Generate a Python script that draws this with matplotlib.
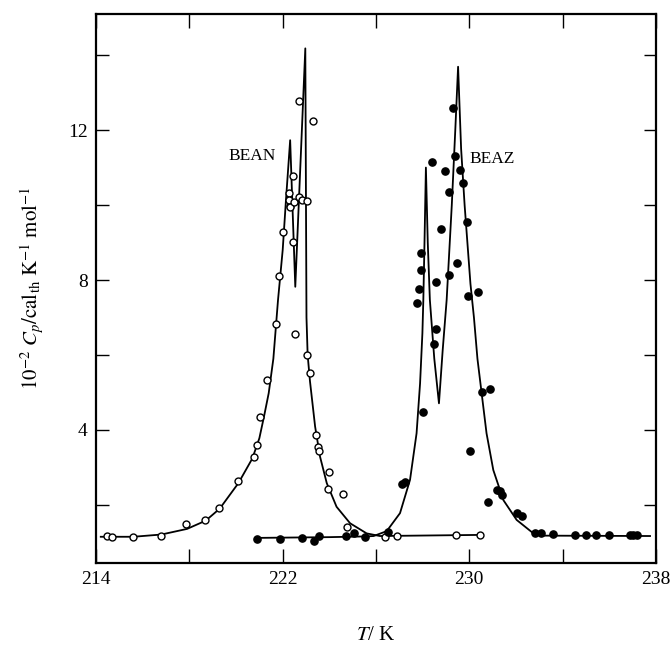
import numpy as np
import matplotlib
matplotlib.use('Agg')
import matplotlib.pyplot as plt

plt.rcParams['font.family'] = 'Liberation Serif'
plt.rcParams['mathtext.fontset'] = 'stix'

# open circles (BEAN)
bean_T = [214.46, 214.67, 215.57, 216.77, 217.86, 218.67, 219.28, 220.07, 220.78, 220.88,
          221.04, 221.33, 221.72, 221.86, 222.0, 222.43, 222.53, 222.32, 222.70, 223.29,
          222.43, 222.29, 222.26, 222.32, 222.5, 222.70, 222.83, 223.03,
          223.06, 223.17, 223.42, 223.53, 223.57, 223.96, 223.99, 224.6, 224.75,
          226.39, 226.91, 229.43, 230.47]
bean_Cp = [1.17, 1.15, 1.15, 1.17, 1.50, 1.60, 1.92, 2.63, 3.29, 3.61,
           4.34, 5.33, 6.82, 8.11, 9.27, 9.01, 6.56, 9.97, 12.78, 12.25,
           10.77, 10.33, 10.13, 9.95, 10.09, 10.22, 10.13, 10.11,
           6.0, 5.53, 3.87, 3.55, 3.44, 2.42, 2.89, 2.29, 1.41,
           1.14, 1.17, 1.19, 1.2]

# filled circles (BEAZ)
beaz_T = [220.91, 221.89, 222.84, 223.36, 223.57, 224.7, 225.07, 225.53, 226.53,
          227.1, 227.24, 228.03, 227.77, 227.86, 227.92, 227.92, 228.39, 228.5, 228.59,
          228.57, 228.79, 228.96, 229.11, 229.14, 229.3, 229.39, 229.49, 229.6, 229.74,
          229.89, 229.96, 230.36, 230.03, 230.56, 230.89, 230.82, 231.17, 231.32, 231.39,
          232.06, 232.27, 232.82, 233.06, 233.6, 234.53, 234.99, 235.42, 236.0, 236.89,
          237.03, 237.2]
beaz_Cp = [1.10, 1.10, 1.12, 1.05, 1.16, 1.17, 1.24, 1.14, 1.27,
           2.55, 2.62, 4.47, 7.38, 7.75, 8.28, 8.71, 11.16, 6.28, 6.69,
           7.96, 9.36, 10.92, 8.13, 10.36, 12.6, 11.31, 8.46, 10.93, 10.58,
           9.55, 7.57, 7.69, 3.44, 5.0, 5.08, 2.09, 2.4, 2.36, 2.27,
           1.78, 1.71, 1.24, 1.26, 1.22, 1.19, 1.19, 1.2, 1.21, 1.19,
           1.19, 1.19]

# fitted curves
bean_fit_T = [214.2, 215.6, 216.8, 217.9, 218.7, 219.3, 220.1, 220.7, 221.0, 221.2,
              221.4, 221.6, 221.8, 222.0, 222.14, 222.32, 222.54, 222.97, 223.02,
              223.07, 223.17, 223.39, 223.6, 223.89, 224.31, 224.89, 225.6, 226.17, 230.5]
bean_fit_Cp = [1.15, 1.15, 1.21, 1.36, 1.58, 1.90, 2.58, 3.24, 3.78, 4.36,
               4.98, 5.9, 7.47, 8.8, 10.13, 11.73, 7.82, 14.18, 7.0,
               6.0, 5.3, 4.09, 3.29, 2.58, 1.95, 1.51, 1.24, 1.17, 1.2]

beaz_fit_T = [220.9, 224.0, 225.6, 225.9, 226.46, 227.03, 227.46, 227.74, 227.89, 227.99,
              228.03, 228.08, 228.14, 228.22, 228.31, 228.5, 228.7, 228.86, 229.03, 229.25,
              229.4, 229.52, 229.65, 229.8, 230.05, 230.2, 230.35, 230.53, 230.74, 231.03,
              231.46, 232.03, 232.75, 233.2, 237.75]
beaz_fit_Cp = [1.12, 1.14, 1.16, 1.17, 1.30, 1.78, 2.67, 3.91, 5.24, 6.58,
               7.47, 9.0, 11.0, 9.0, 7.47, 5.9, 4.71, 6.13, 7.47, 10.0,
               12.0, 13.69, 11.5, 10.0, 7.9, 7.0, 5.9, 4.98, 3.91, 2.93,
               2.13, 1.6, 1.24, 1.18, 1.17]

x_ticks = [214, 218, 222, 226, 230, 234, 238]
x_ticklabels = ['214', '', '222', '', '230', '', '238']
y_ticks = [2, 4, 6, 8, 10, 12, 14]
y_ticklabels = ['', '4', '', '8', '', '12', '']


def draw_chart():
    fig = plt.figure(figsize=(6.72, 6.49), dpi=100)
    ax = fig.add_axes([0.143, 0.1325, 0.833, 0.8455])

    ax.plot(bean_fit_T, bean_fit_Cp, color='black', linewidth=1.3, zorder=2)
    ax.plot(beaz_fit_T, beaz_fit_Cp, color='black', linewidth=1.3, zorder=2)
    ax.plot(bean_T, bean_Cp, 'o', markerfacecolor='white', markeredgecolor='black',
            markersize=5, markeredgewidth=1.0, zorder=3)
    ax.plot(beaz_T, beaz_Cp, 'o', color='black', markersize=5.2, zorder=3)

    ax.text(220.7, 11.3, 'BEAN', fontsize=12.5, ha='center', va='center')
    ax.text(231.0, 11.22, 'BEAZ', fontsize=12.5, ha='center', va='center')

    ax.set_xlim(214, 238)
    ax.set_ylim(0.45, 15.09)
    ax.set_xticks(x_ticks)
    ax.set_xticklabels(x_ticklabels)
    ax.set_yticks(y_ticks)
    ax.set_yticklabels(y_ticklabels)
    ax.tick_params(axis='both', direction='in', top=True, right=True,
                   labelsize=14, width=1.0)
    ax.tick_params(axis='x', length=10, pad=6)
    ax.tick_params(axis='y', length=9, pad=6)
    for s in ax.spines.values():
        s.set_linewidth(1.6)

    ax.set_xlabel('$T$/ K', fontsize=15, labelpad=27)
    ax.set_ylabel(r'$10^{-2}\ C_p/\mathrm{cal}_{\mathrm{th}}\ \mathrm{K}^{-1}\ \mathrm{mol}^{-1}$',
                  fontsize=15, labelpad=16)
    fig.savefig('out.png', dpi=100)


if __name__ == '__main__':
    draw_chart()
